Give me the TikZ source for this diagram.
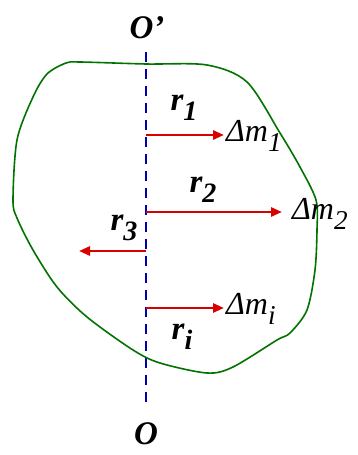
\documentclass[tikz,border=0pt]{standalone}
\usepackage{fontspec}
\newfontfamily\timesfont{Liberation Serif}
\usepackage{tikz}
\usetikzlibrary{arrows.meta}

\newcommand{\sbs}[1]{\raisebox{-0.3em}{\scalebox{0.85}{#1}}}

\begin{document}
\begin{tikzpicture}[x=1pt, y=-1pt,
  axisline/.style = {draw=blue!70!black, line width=2.8pt,
                     dash pattern=on 10pt off 7pt},
  body/.style     = {draw=green!45!black, line width=1.6pt},
  vec/.style      = {-{Triangle[length=11pt,width=9pt]},
                     draw=red!85!black, line width=2.8pt},
  rlbl/.style     = {font=\timesfont\fontsize{33pt}{34pt}\selectfont\bfseries\itshape,
                     inner sep=0pt},
  mlbl/.style     = {font=\timesfont\fontsize{32pt}{34pt}\selectfont\itshape,
                     inner sep=0pt}
]
\useasboundingbox (0,0) rectangle (357,455);

%── rotation axis ─────────────────────────────────────────────────
\node[rlbl] (Otop) at (147,28) {O’};
\node[rlbl] (Obot) at (146,434) {O};
\coordinate (ax1) at (146,52);
\coordinate (ax2) at (146,404);
\draw[axisline] (ax1) -- (ax2);

%── rigid body outline ────────────────────────────────────────────
\draw[body] plot[smooth cycle, tension=0.5] coordinates {
  (146,64) (207,65) (247,82) (280,133) (300,167) (316,200)
  (317,230) (315,270) (307,310) (290,333) (277,340) (233,367)
  (207,373) (160,363) (133,350) (87,317) (57,287) (33,250)
  (17,218) (13,200) (17,140) (33,97) (47,74) (66,63) (80,62)};

%── mass elements ─────────────────────────────────────────────────
\coordinate (p1) at (146,135);
\coordinate (e1) at (224,135);
\coordinate (p2) at (146,212);
\coordinate (e2) at (282,212);
\coordinate (p3) at (146,251);
\coordinate (e3) at (79,251);
\coordinate (pi) at (146,308);
\coordinate (ei) at (224,308);

\draw[vec] (p1) -- (e1);
\draw[vec] (p2) -- (e2);
\draw[vec] (p3) -- (e3);
\draw[vec] (pi) -- (ei);

\node[rlbl] (r1) at (184,108) {r\sbs{1}};
\node[rlbl] (r2) at (203,190) {r\sbs{2}};
\node[rlbl] (r3) at (124,228) {r\sbs{3}};
\node[rlbl] (ri) at (182,337) {r\sbs{i}};

\node[mlbl, anchor=west] (m1) at (226,136) {Δm\sbs{1}};
\node[mlbl, anchor=west] (m2) at (292,214) {Δm\sbs{2}};
\node[mlbl, anchor=west] (mi) at (226,309) {Δm\sbs{i}};

\end{tikzpicture}
\end{document}
